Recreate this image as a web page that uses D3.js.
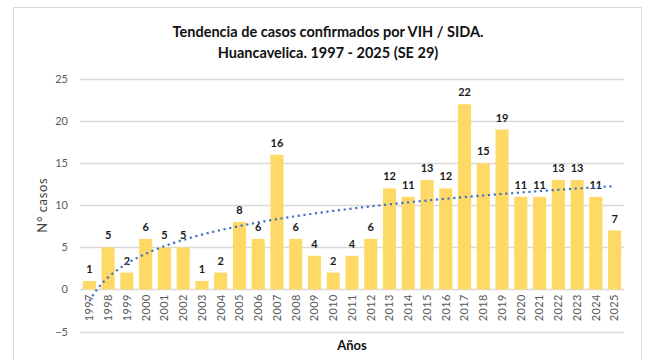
<!DOCTYPE html>
<html>
<head>
<meta charset="utf-8">
<script src="https://cdn.jsdelivr.net/npm/d3@7"></script>
<style>
  html, body { margin: 0; padding: 0; background: #fff; }
  svg { display: block; }
  text { font-family: Lato, "Open Sans", sans-serif; }
</style>
</head>
<body>
<div id="chart"></div>
<script>
// Casos confirmados de VIH / SIDA por año, Huancavelica
const years = ["1997","1998","1999","2000","2001","2002","2003","2004","2005","2006",
  "2007","2008","2009","2010","2011","2012","2013","2014","2015","2016",
  "2017","2018","2019","2020","2021","2022","2023","2024","2025"];
const cases = [1,5,2,6,5,5,1,2,8,6,16,6,4,2,4,6,12,11,13,12,22,15,19,11,11,13,13,11,7];
const yTicks = [-5,0,5,10,15,20,25];
const titleLines = ["Tendencia de casos confirmados por VIH / SIDA.", "Huancavelica. 1997 - 2025 (SE 29)"];

const W = 651, H = 360;
const plot = { left: 80, right: 624, top: 79, bottom: 331.5 };

const svg = d3.select("#chart").append("svg")
  .attr("width", W).attr("height", H);

// chart frame
svg.append("rect")
  .attr("x", 13.5).attr("y", 7.5)
  .attr("width", 628).attr("height", 360)
  .attr("fill", "#fff").attr("stroke", "#d9d9d9").attr("stroke-width", 1);

const x = d3.scaleBand().domain(years).range([plot.left, plot.right]).paddingInner(0.3).paddingOuter(0.15);
const y = d3.scaleLinear().domain([-5, 25]).range([plot.bottom, plot.top]);

// gridlines
svg.append("g").selectAll("line").data(yTicks).join("line")
  .attr("x1", plot.left).attr("x2", plot.right)
  .attr("y1", d => Math.round(y(d)) + 0.5).attr("y2", d => Math.round(y(d)) + 0.5)
  .attr("stroke", "#d9d9d9").attr("stroke-width", 1.3);

// y axis labels
const yAxis = d3.axisLeft(y).tickValues(yTicks).tickSize(0).tickPadding(12);
const gy = svg.append("g").attr("transform", `translate(${plot.left},0)`).call(yAxis);
gy.select(".domain").remove();
gy.selectAll("text").attr("fill", "#595959").style("font-size", "11px")
  .style("font-family", "Lato, 'Open Sans', sans-serif");

// bars
svg.append("g").selectAll("rect").data(cases).join("rect")
  .attr("x", (d, i) => x(years[i]))
  .attr("width", x.bandwidth())
  .attr("y", d => y(d))
  .attr("height", d => y(0) - y(d))
  .attr("fill", "#ffd966");

// value labels
svg.append("g").selectAll("text").data(cases).join("text")
  .attr("x", (d, i) => x(years[i]) + x.bandwidth() / 2)
  .attr("y", d => y(d) - 8)
  .attr("text-anchor", "middle")
  .attr("fill", "#1a1a1a")
  .style("font-size", "11px").style("font-weight", "bold")
  .text(d => d);

// x axis labels (rotated)
const xAxis = d3.axisBottom(x).tickSize(0).tickPadding(0);
const gx = svg.append("g").attr("transform", `translate(0,${y(0)})`).call(xAxis);
gx.select(".domain").remove();
gx.selectAll("text")
  .attr("transform", "rotate(-90)")
  .attr("x", -5).attr("y", 0).attr("dy", "0.35em")
  .attr("text-anchor", "end")
  .attr("fill", "#595959")
  .style("font-size", "11px")
  .style("letter-spacing", "0.3px")
  .style("font-family", "Lato, 'Open Sans', sans-serif");

// logarithmic trend line (least squares on ln of period index)
const idx = cases.map((d, i) => i + 1);
const lx = idx.map(Math.log);
const mx = d3.mean(lx), my = d3.mean(cases);
const slope = d3.sum(lx, (v, i) => (v - mx) * (cases[i] - my)) / d3.sum(lx, v => (v - mx) ** 2);
const intercept = my - slope * mx;
const trendScale = d3.scaleLinear().domain([1, years.length])
  .range([x(years[0]) + x.bandwidth() / 2, x(years[years.length - 1]) + x.bandwidth() / 2]);
const trendPts = d3.range(1, years.length + 0.001, 0.1).map(t => [trendScale(t), y(intercept + slope * Math.log(t))]);
svg.append("path")
  .attr("d", d3.line()(trendPts))
  .attr("fill", "none")
  .attr("stroke", "#4472c4")
  .attr("stroke-width", 2.2)
  .attr("stroke-dasharray", "2.2 3.6");

// title
svg.append("text")
  .attr("x", 328).attr("y", 37)
  .attr("text-anchor", "middle")
  .attr("fill", "#111")
  .style("font-size", "14.5px").style("font-weight", "bold")
  .selectAll("tspan").data(titleLines).join("tspan")
  .attr("x", 328).attr("dy", (d, i) => i === 0 ? 0 : 21)
  .text(d => d);

// axis titles
svg.append("text")
  .attr("transform", `translate(47,${(plot.top + plot.bottom) / 2}) rotate(-90)`)
  .attr("text-anchor", "middle")
  .attr("fill", "#404040")
  .style("font-size", "13px").style("letter-spacing", "0.6px")
  .text("N° casos");

svg.append("text")
  .attr("x", 352).attr("y", 350)
  .attr("text-anchor", "middle")
  .attr("fill", "#111")
  .style("font-size", "13px").style("font-weight", "bold")
  .text("Años");
</script>
</body>
</html>
